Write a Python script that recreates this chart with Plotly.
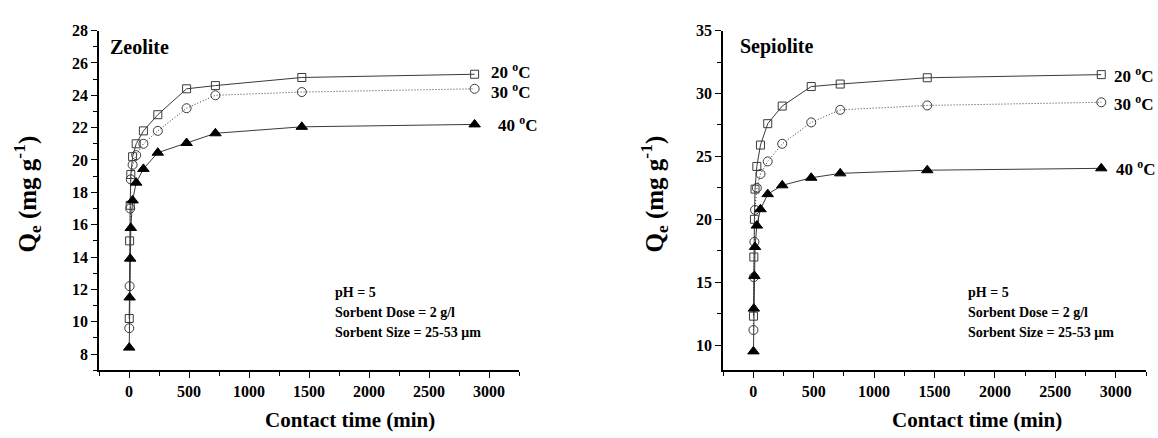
import plotly.graph_objects as go

# Contact time (min)
time_min = [2, 5, 10, 15, 30, 60, 120, 240, 480, 720, 1440, 2880]

# Zeolite uptake (mg/g)
zeo_20 = [10.2, 15.0, 17.2, 19.1, 20.2, 21.0, 21.8, 22.8, 24.4, 24.6, 25.1, 25.3]
zeo_30 = [9.6, 12.2, 17.0, 18.8, 19.7, 20.3, 21.0, 21.8, 23.2, 24.0, 24.2, 24.4]
zeo_40 = [8.4, 11.5, 13.9, 15.8, 17.5, 18.6, 19.45, 20.45, 21.05, 21.65, 22.05, 22.2]

# Sepiolite uptake (mg/g)
sep_20 = [12.3, 17.0, 20.0, 22.4, 24.2, 25.9, 27.6, 29.0, 30.55, 30.75, 31.25, 31.5]
sep_30 = [11.2, 15.4, 18.2, 20.75, 22.5, 23.6, 24.6, 26.0, 27.7, 28.7, 29.05, 29.3]
sep_40 = [9.5, 12.9, 15.5, 17.8, 19.5, 20.8, 22.0, 22.7, 23.3, 23.65, 23.9, 24.05]

# Tick values
x_ticks = [0, 500, 1000, 1500, 2000, 2500, 3000]
zeo_yticks = [8, 10, 12, 14, 16, 18, 20, 22, 24, 26, 28]
sep_yticks = [10, 15, 20, 25, 30, 35]

temps = ["20 <sup>o</sup>C", "30 <sup>o</sup>C", "40 <sup>o</sup>C"]
panels = ["Zeolite", "Sepiolite"]
conditions = ["pH = 5", "Sorbent Dose = 2 g/l", "Sorbent Size = 25-53 \u03bcm"]

FONT = "Liberation Serif"
LINE = "#3a3a3a"


def bold(vals):
    return ["<b>%g</b>" % v for v in vals]


styles = [
    dict(symbol="square-open", size=8, color=LINE, dash="solid"),
    dict(symbol="circle-open", size=9, color=LINE, dash="1px,2px"),
    dict(symbol="triangle-up", size=10, color="black", dash="solid"),
]

fig = go.Figure()

# (x axis, y axis, series, label x offsets, label y offsets)
panel_series = [
    ("x", "y", [zeo_20, zeo_30, zeo_40], [14, 14, 21], [3, -2, 0]),
    ("x2", "y2", [sep_20, sep_30, sep_40], [11, 11, 13], [0, -1, 0]),
]

annotations = []
for xa, ya, series, shifts, yshifts in panel_series:
    for vals, st, label, sh, ysh in zip(series, styles, temps, shifts, yshifts):
        fig.add_trace(go.Scatter(
            x=time_min, y=vals, xaxis=xa, yaxis=ya, mode="lines+markers",
            line=dict(color=LINE, width=1, dash=st["dash"]),
            marker=dict(symbol=st["symbol"], size=st["size"], color=st["color"],
                        line=dict(color=st["color"], width=1)),
            showlegend=False, cliponaxis=False,
        ))
        annotations.append(dict(
            x=time_min[-1], y=vals[-1], xref=xa, yref=ya, text="<b>" + label + "</b>",
            showarrow=False, xanchor="left", yanchor="middle", xshift=sh, yshift=ysh,
            font=dict(family=FONT, size=17, color="black"),
        ))

W, H = 1158, 438
left_dom = [99 / W, 519 / W]
right_dom = [723 / W, 1146 / W]
y_dom = [1 - 369 / H, 1 - 23 / H]

axis_common = dict(
    showline=True, linecolor="black", linewidth=1.5, showgrid=False, zeroline=False,
    ticks="outside", ticklen=6, tickwidth=1.3, tickcolor="black",
    tickfont=dict(family=FONT, size=16, color="black"),
)

xaxis_common = dict(axis_common, range=[-250, 3250], tickmode="array",
                    tickvals=x_ticks, ticktext=bold(x_ticks),
                    minor=dict(ticks="outside", ticklen=4, tick0=-250, dtick=250,
                               tickcolor="black", tickwidth=1.2))

fig.update_layout(
    width=W, height=H, margin=dict(l=0, r=0, t=0, b=0),
    paper_bgcolor="white", plot_bgcolor="white",
    xaxis=dict(xaxis_common, domain=left_dom, anchor="y"),
    yaxis=dict(axis_common, domain=y_dom, anchor="x", range=[7, 28], tickmode="array",
               tickvals=zeo_yticks, ticktext=bold(zeo_yticks),
               minor=dict(ticks="outside", ticklen=4, tick0=7, dtick=1,
                          tickcolor="black", tickwidth=1.2)),
    xaxis2=dict(xaxis_common, domain=right_dom, anchor="y2"),
    yaxis2=dict(axis_common, domain=y_dom, anchor="x2", range=[8, 35], tickmode="array",
                tickvals=sep_yticks, ticktext=bold(sep_yticks),
                minor=dict(ticks="outside", ticklen=4, tick0=7.5, dtick=2.5,
                           tickcolor="black", tickwidth=1.2)),
)


def px(x):
    return x / W


def py(y):
    return 1 - y / H


# Panel names
annotations.append(dict(x=px(108), y=py(40), xref="paper", yref="paper", text="<b>Zeolite</b>",
                        showarrow=False, xanchor="left", yanchor="middle",
                        font=dict(family=FONT, size=20, color="black")))
annotations.append(dict(x=px(738), y=py(39), xref="paper", yref="paper", text="<b>Sepiolite</b>",
                        showarrow=False, xanchor="left", yanchor="middle",
                        font=dict(family=FONT, size=20, color="black")))

# Experimental conditions
for x0 in [333, 966]:
    for txt, yy in zip(conditions, [290, 310, 331]):
        annotations.append(dict(x=px(x0), y=py(yy), xref="paper", yref="paper",
                                text="<b>" + txt + "</b>", showarrow=False,
                                xanchor="left", yanchor="middle",
                                font=dict(family=FONT, size=14, color="black")))

# Axis titles
for xc in [350, 977]:
    annotations.append(dict(x=px(xc), y=py(420), xref="paper", yref="paper",
                            text="<b>Contact time (min)</b>", showarrow=False,
                            xanchor="center", yanchor="middle",
                            font=dict(family=FONT, size=21, color="black")))
for xc in [27, 654]:
    annotations.append(dict(x=px(xc), y=py(190), xref="paper", yref="paper",
                            text="<b>Q<sub>e</sub> (mg g<sup>-1</sup>)</b>", showarrow=False,
                            textangle=-90, xanchor="center", yanchor="middle",
                            font=dict(family=FONT, size=25, color="black")))

fig.update_layout(annotations=annotations)

fig.write_html("out.html")
